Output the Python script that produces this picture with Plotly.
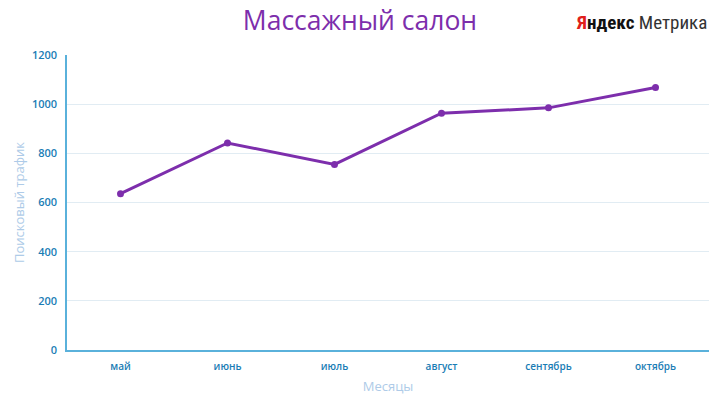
import plotly.graph_objects as go

months = ["май", "июнь", "июль", "август", "сентябрь", "октябрь"]
traffic = [636, 842, 755, 963, 985, 1068]
y_ticks = [0, 200, 400, 600, 800, 1000, 1200]

purple = "#7D2EAC"
tick_blue = "#1A7DB5"

fig = go.Figure()
fig.add_trace(go.Scatter(
    x=months, y=traffic, mode="lines+markers",
    line=dict(color=purple, width=3),
    marker=dict(color=purple, size=7),
))

fig.update_layout(
    width=720, height=420,
    margin=dict(l=67, r=11, t=55, b=70),
    paper_bgcolor="white", plot_bgcolor="white",
    showlegend=False,
    font=dict(family="Open Sans, sans-serif"),
    title=dict(text="Массажный салон", x=0.5, xref="container", xanchor="center",
               y=0.95, yanchor="middle",
               font=dict(size=26.5, color=purple, family="Open Sans, sans-serif")),
)
fig.update_xaxes(
    type="category", range=[-0.5, 5.5],
    showline=True, linecolor="#5AB1DB", linewidth=1.5,
    showgrid=False, ticks="", ticklabelstandoff=6,
    tickfont=dict(size=10, color=tick_blue, weight=600),
    title=dict(text="Месяцы", font=dict(size=13, color="#AECBE8"), standoff=10),
)
fig.update_yaxes(
    range=[0, 1200], tickvals=y_ticks,
    showline=True, linecolor="#5AB1DB", linewidth=1.5,
    showgrid=True, gridcolor="#E1ECF3", gridwidth=1,
    zeroline=False, ticks="", ticklabelstandoff=6,
    tickfont=dict(size=11, color=tick_blue, weight=600),
    title=dict(text="Поисковый трафик", font=dict(size=13, color="#AECBE8"), standoff=4),
)

fig.add_annotation(
    xref="paper", yref="paper", x=1.0, y=1.0, xshift=0, yshift=33,
    xanchor="right", yanchor="middle", showarrow=False,
    text="<span style='color:#E0201B'><b>Я</b></span><b>ндекс</b> <span style='color:#333'>Метрика</span>",
    font=dict(size=19, color="#111", family="Roboto Condensed, Roboto, sans-serif"),
)

fig.write_html("out.html")
